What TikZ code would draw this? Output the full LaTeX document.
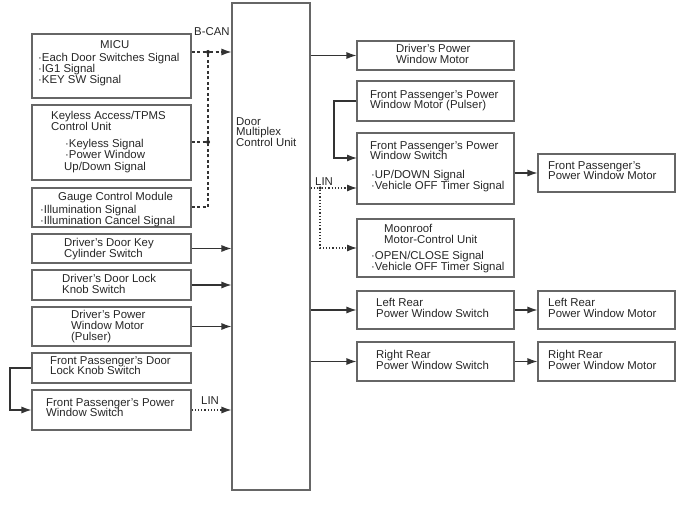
\documentclass[tikz,border=0pt]{standalone}
\usepackage{fontspec}
\setmainfont{Liberation Sans}
\usetikzlibrary{arrows.meta}
\begin{document}
\begin{tikzpicture}[x=1pt,y=-1pt,
 box/.style={draw=black!60,line width=1.1pt,inner sep=0},
 t/.style={anchor=north west,inner sep=0,align=left,font=\fontsize{11.4}{10.8}\selectfont,text=black!85},
 tip/.style={-{Latex[length=10pt,width=7pt]}},
 ar/.style={line width=1.1pt,draw=black!80,tip},
 dsh/.style={line width=1.1pt,draw=black!80,dash pattern=on 3pt off 2.5pt},
 dot/.style={line width=1.1pt,draw=black!80,dash pattern=on 1.2pt off 2pt},
 jn/.style={circle,fill=black!85,inner sep=0,minimum size=4pt}]
\useasboundingbox (0,0) rectangle (694,511);
\newcommand{\bx}[5]{\node[box,minimum width={#4-#2},minimum height={#5-#3}] (#1) at ({(#2+#4)/2},{(#3+#5)/2}) {};}
% left column
\bx{micu}{32}{34}{191}{98}
\bx{key}{32}{105}{191}{180}
\bx{gau}{32}{188}{191}{227}
\bx{dkc}{32}{234}{191}{263}
\bx{dlk}{32}{270}{191}{300}
\bx{dpm}{32}{307}{191}{346}
\bx{fdl}{32}{353}{191}{383}
\bx{fpw}{32}{390}{191}{430}
\bx{dmcu}{232}{3}{310}{490}
% right columns
\bx{rdm}{357}{41}{514}{70}
\bx{rfp}{357}{81}{514}{121}
\bx{rfs}{357}{133}{514}{204}
\bx{moon}{357}{219}{514}{277}
\bx{lrs}{357}{291}{514}{329}
\bx{rrs}{357}{342}{514}{381}
\bx{fpm}{538}{154}{675}{192}
\bx{lrm}{538}{291}{675}{329}
\bx{rrm}{538}{342}{675}{381}
% texts
\node[t] (t1) at (100,40) {MICU};
\node[t] (t2) at (38,53) {·Each Door Switches Signal\\·IG1 Signal\\·KEY SW Signal};
\node[t] (t3) at (51,111) {Keyless Access/TPMS\\Control Unit};
\node[t] (t4) at (65,139) {·Keyless Signal\\·Power Window};
\node[t] (t5) at (64,162) {Up/Down Signal};
\node[t] (t6) at (58,192) {Gauge Control Module};
\node[t] (t7) at (40,205) {·Illumination Signal\\·Illumination Cancel Signal};
\node[t] (t8) at (64,238) {Driver's Door Key\\Cylinder Switch};
\node[t] (t9) at (62,274) {Driver's Door Lock\\Knob Switch};
\node[t] (t10) at (71,310) {Driver's Power\\Window Motor\\(Pulser)};
\node[t] (t11) at (50,356) {Front Passenger's Door\\Lock Knob Switch};
\node[t] (t12) at (46,398) {Front Passenger's Power\\Window Switch};
\node[t] (t13) at (236,117) {Door\\Multiplex\\Control Unit};
\node[t] (t14) at (396,44) {Driver's Power\\Window Motor};
\node[t] (t15) at (370,90) {Front Passenger's Power\\Window Motor (Pulser)};
\node[t] (t16) at (370,141) {Front Passenger's Power\\Window Switch};
\node[t] (t17) at (371,170) {·UP/DOWN Signal\\·Vehicle OFF Timer Signal};
\node[t] (t18) at (384,224) {Moonroof\\Motor-Control Unit};
\node[t] (t19) at (371,251) {·OPEN/CLOSE Signal\\·Vehicle OFF Timer Signal};
\node[t] (t20) at (376,298) {Left Rear\\Power Window Switch};
\node[t] (t21) at (376,350) {Right Rear\\Power Window Switch};
\node[t] (t22) at (548,161) {Front Passenger's\\Power Window Motor};
\node[t] (t23) at (548,298) {Left Rear\\Power Window Motor};
\node[t] (t24) at (548,350) {Right Rear\\Power Window Motor};
\node[t] (bcan) at (194,27) {B-CAN};
\node[t] (lin1) at (201,396) {LIN};
\node[t] (lin2) at (315,177) {LIN};
% B-CAN
\node[jn] (j1) at (208,52) {};
\node[jn] (j2) at (208,142) {};
\coordinate (j3) at (208,207);
\draw[dsh] (micu.east|-j1) -- (j1);
\draw[dsh,tip] (j1) -- (dmcu.west|-j1);
\draw[dsh] (key.east|-j2) -- (j2);
\draw[dsh] (gau.east|-j3) -- (j3) -- (j2) -- (j1);
% left inputs
\draw[ar] (dkc.east) -- (dmcu.west|-dkc.east);
\draw[ar] (dlk.east) -- (dmcu.west|-dlk.east);
\draw[ar] (dpm.east) -- (dmcu.west|-dpm.east);
\draw[dot,tip] (fpw.east) -- (dmcu.west|-fpw.east);
\draw[ar] (fdl.west) -- (10,368) |- (fpw.west);
% right outputs
\draw[ar] (dmcu.east|-rdm.west) -- (rdm.west);
\draw[ar] (rfp.west) -- (334,101) |- (357,158);
\node[jn,minimum size=3.5pt] (j4) at (320,188) {};
\draw[dot] (dmcu.east|-j4) -- (j4);
\draw[dot,tip] (j4) -- (357,188);
\draw[dot,tip] (j4) |- (357,248);
\draw[ar] (dmcu.east|-lrs.west) -- (lrs.west);
\draw[ar] (dmcu.east|-rrs.west) -- (rrs.west);
\draw[ar] (rfs.east|-fpm.west) -- (fpm.west);
\draw[ar] (lrs.east) -- (lrm.west);
\draw[ar] (rrs.east) -- (rrm.west);
\end{tikzpicture}
\end{document}
